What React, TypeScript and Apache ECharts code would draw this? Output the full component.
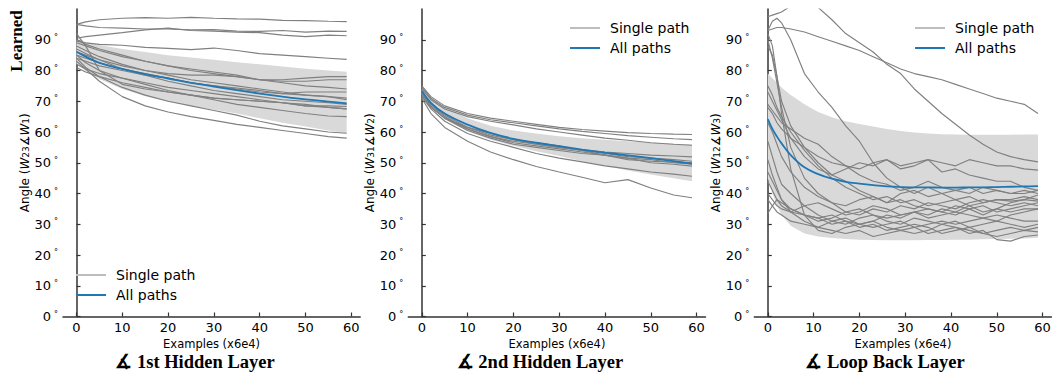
import React, { useEffect, useRef } from 'react';
import * as echarts from 'echarts';

// ---------- data ----------
const X_SMOOTH = [0, 2, 5, 10, 15, 20, 25, 30, 35, 40, 45, 50, 55, 59];
const X_NOISY = [0, 1, 2, 3, 5, 8, 11, 14, 17, 20, 23, 26, 29, 32, 35, 38, 41, 44, 47, 50, 53, 56, 59];
const X_TICKS = [0, 10, 20, 30, 40, 50, 60];
const Y_TICKS = [0, 10, 20, 30, 40, 50, 60, 70, 80, 90];

const P1_PATHS = [
  [95.0, 95.8, 96.5, 97.0, 97.2, 97.0, 97.3, 97.0, 96.8, 96.7, 96.3, 96.2, 96.0, 95.9],
  [95.0, 94.5, 94.0, 93.8, 93.5, 93.5, 93.2, 93.3, 92.8, 92.7, 93.0, 92.5, 92.8, 92.7],
  [90.5, 91.0, 91.5, 92.3, 93.2, 93.8, 93.0, 92.8, 92.5, 92.3, 91.5, 91.0, 91.5, 91.3],
  [89.5, 89.0, 88.5, 88.2, 87.5, 87.2, 86.8, 87.3, 86.5, 85.5, 85.0, 84.5, 84.0, 83.6],
  [83.0, 80.5, 76.5, 71.5, 68.5, 66.5, 65.0, 63.8, 62.5, 61.5, 60.5, 59.5, 58.5, 58.0],
  [84.0, 81.0, 78.0, 74.5, 72.0, 70.0, 68.5, 67.0, 65.5, 63.5, 62.0, 61.0, 60.0, 59.6],
  [85.0, 82.5, 80.0, 77.5, 75.5, 73.5, 72.0, 70.5, 69.0, 68.0, 67.0, 66.0, 65.2, 65.0],
  [82.0, 80.5, 79.0, 77.5, 76.0, 74.5, 73.5, 72.5, 71.5, 70.5, 69.5, 68.5, 68.0, 67.5],
  [88.0, 86.5, 84.5, 82.0, 80.0, 78.5, 77.0, 76.0, 75.0, 74.0, 73.0, 72.0, 71.5, 71.0],
  [84.0, 83.0, 81.5, 80.0, 78.5, 77.5, 76.0, 75.0, 74.3, 73.5, 72.5, 72.0, 71.5, 70.5],
  [89.0, 88.0, 86.5, 84.5, 83.0, 81.5, 80.5, 79.5, 78.5, 77.0, 76.5, 76.5, 77.0, 77.0],
  [90.0, 88.5, 87.0, 85.0, 83.0, 81.5, 80.0, 79.0, 78.0, 77.0, 76.0, 75.0, 74.5, 74.0],
  [86.0, 85.0, 83.5, 81.5, 80.0, 79.0, 78.5, 78.5, 78.0, 77.0, 77.0, 77.5, 78.0, 78.0],
  [87.0, 85.5, 83.5, 80.5, 78.5, 76.5, 75.0, 73.5, 72.5, 71.5, 70.5, 70.0, 69.5, 69.0],
  [92.0, 88.0, 80.0, 75.5, 74.0, 73.0, 72.0, 71.0, 70.5, 70.0, 69.5, 68.5, 68.5, 68.3],
  [81.0, 79.5, 78.0, 76.0, 74.5, 73.0, 72.0, 71.0, 70.5, 70.0, 69.5, 69.0, 68.0, 67.5],
  [85.0, 84.0, 82.5, 80.5, 79.0, 77.5, 76.0, 75.0, 74.0, 73.0, 72.5, 73.0, 73.0, 73.0],
];
const P1_MEAN = [86.1, 84.5, 82.5, 80.5, 78.8, 77.4, 76.0, 74.8, 73.6, 72.5, 71.5, 70.6, 69.9, 69.3];
const P1_UPPER = [90, 89.3, 88.3, 87, 86, 85, 84.2, 83.5, 82.7, 82, 81.3, 80.6, 80, 79.6];
const P1_LOWER = [82.2, 79.8, 77.2, 74, 71.6, 69.8, 68.5, 67.2, 66, 64.5, 63, 61.8, 60.5, 59.6];

const P2_PATHS = [
  [75.0, 71.5, 68.5, 66.0, 64.5, 63.5, 62.5, 61.5, 60.8, 60.3, 59.8, 59.5, 59.3, 59.2],
  [74.5, 71.0, 68.0, 65.5, 64.0, 63.0, 62.0, 61.0, 60.2, 59.5, 58.8, 58.3, 57.8, 57.5],
  [74.0, 70.5, 67.5, 65.0, 63.5, 62.3, 61.0, 60.0, 59.0, 58.0, 57.3, 56.5, 56.0, 55.7],
  [72.0, 68.0, 64.5, 61.0, 58.5, 57.0, 56.0, 55.0, 54.2, 53.5, 53.0, 52.5, 52.2, 51.9],
  [73.0, 69.0, 65.5, 61.5, 59.0, 57.5, 56.0, 55.0, 54.0, 53.0, 52.0, 51.5, 51.0, 50.5],
  [72.5, 68.5, 64.5, 60.5, 58.0, 56.0, 55.0, 54.0, 53.0, 52.5, 51.5, 50.0, 49.5, 48.9],
  [71.5, 67.5, 63.5, 59.5, 57.0, 55.0, 53.0, 51.5, 50.3, 49.0, 48.0, 47.0, 46.3, 45.6],
  [73.5, 69.0, 65.0, 61.0, 58.5, 56.5, 55.5, 54.5, 53.5, 52.5, 51.5, 51.0, 50.0, 49.5],
  [72.5, 68.0, 64.5, 61.5, 59.5, 57.5, 56.5, 55.5, 54.0, 52.5, 51.0, 50.5, 50.2, 50.0],
  [71.0, 66.0, 61.5, 57.0, 53.5, 51.0, 48.8, 47.0, 45.3, 43.5, 44.5, 41.8, 39.5, 38.6],
];
const P2_MEAN = [73.3, 69.5, 66, 62.4, 59.7, 57.8, 56.5, 55.4, 54.3, 53.3, 52.4, 51.5, 50.5, 49.7];
const P2_UPPER = [74, 71, 68, 64.5, 62, 60.5, 59.5, 58.6, 58, 57.5, 57, 56.6, 56.2, 55.9];
const P2_LOWER = [72.5, 68, 64, 60.3, 57.5, 55.5, 53.7, 52.2, 50.5, 49, 47.5, 46.2, 45, 44];

const P3_PATHS = [
  [97.5, 98, 98.5, 99, 101, 103, 100.5, 96.5, 92, 89, 86, 82, 79, 74, 70, 66, 62.5, 59, 56, 53.5, 52, 51, 50.3],
  [93, 96, 97, 95.5, 90, 79, 73, 68, 62, 57, 50, 45, 42, 40, 42, 40, 38, 39, 37, 38, 37.5, 38, 37.5],
  [93, 93.5, 94, 94, 93.5, 92.5, 91, 89.5, 88, 86.5, 84.5, 82.5, 80.5, 79, 78, 77, 75.5, 74, 72.5, 71, 70, 69, 66],
  [92, 88, 78, 66, 48, 33, 28, 27, 29, 30, 31, 29, 28, 29, 27, 28, 29, 27, 28, 25, 24.5, 26, 26.5],
  [88, 85, 78, 70, 62, 55, 50, 46, 44, 41, 39, 37, 38, 36, 35, 34, 36, 35, 33, 35, 34, 35, 35],
  [75, 72, 68, 65, 60, 54, 49, 45, 42, 40, 38, 39, 37, 38, 36, 37, 38, 36, 37, 38, 38, 39, 38],
  [73, 70, 67, 64, 58, 52, 48, 46, 48, 50, 49, 51, 48, 49, 51, 47, 48, 46, 45, 44, 44, 42, 41],
  [68, 66, 63, 61, 58, 55, 52, 50, 49, 48, 50, 51, 49, 50, 51, 50, 49, 51, 50, 49, 49, 48, 47.6],
  [63, 60, 56, 52, 47, 42, 39, 37, 36, 38, 39, 37, 40, 41, 39, 40, 41, 42, 40, 41, 40, 40, 41],
  [57, 52, 47, 43, 40, 36, 33, 31, 30, 32, 33, 31, 30, 32, 31, 30, 31, 29, 30, 31, 30, 29, 30],
  [51, 46, 42, 38, 34, 31, 29, 28, 27, 28, 26, 27, 28, 27, 28, 30, 29, 28, 27, 28, 29, 28, 29],
  [47, 44, 41, 38, 35, 33, 31, 32, 34, 33, 35, 34, 36, 35, 37, 36, 35, 37, 38, 37, 36, 37, 36],
  [44, 41, 38, 36, 34, 33, 32, 33, 31, 30, 29, 30, 31, 29, 30, 31, 30, 31, 32, 33, 32, 31, 31],
  [40, 38, 36, 35, 34, 36, 37, 35, 33, 34, 36, 35, 33, 34, 35, 34, 33, 35, 36, 34, 35, 36, 37],
  [33.5, 36, 38, 37, 35, 33, 32, 30, 31, 29, 30, 28, 29, 30, 29, 27, 28, 29, 27, 26, 27, 28, 27.5],
  [38, 36, 34, 33, 31, 30, 29, 31, 32, 30, 31, 33, 32, 34, 33, 35, 34, 36, 34, 35, 37, 38, 39.5],
  [90, 84, 76, 68, 55, 45, 40, 37, 34, 35, 33, 32, 33, 34, 32, 33, 34, 33, 32, 31, 33, 34, 35],
  [69, 67, 65, 63, 61, 58, 56, 52, 49, 46, 44, 43, 41, 42, 44, 42, 41, 40, 42, 41, 40, 41, 40],
];
const P3_MEAN = [64.2, 61, 58.5, 56.3, 52.5, 48.5, 46.3, 44.8, 43.8, 43.2, 42.7, 42.3, 42.1, 42.0, 42.0, 41.9, 41.9, 42.0, 42.0, 42.1, 42.2, 42.3, 42.4];
const P3_UPPER = [79, 77.5, 76, 74.5, 72, 69, 66.5, 64.8, 63.5, 62.6, 61.8, 61, 60.3, 59.8, 59.5, 59.3, 59.2, 59.1, 59.1, 59.1, 59.1, 59.2, 59.2];
const P3_LOWER = [45, 40, 36, 33, 29.5, 27, 26, 25.5, 25.2, 25, 24.9, 24.8, 24.8, 24.8, 24.9, 24.9, 25, 25, 25.1, 25.2, 25.3, 25.4, 25.6];

const TITLES = ['∡ 1st Hidden Layer', '∡ 2nd Hidden Layer', '∡ Loop Back Layer'];
const Y_NAMES = [
  ['23', '1'],
  ['31', '2'],
  ['12', '3'],
];

// ---------- layout ----------
const SANS = '"DejaVu Sans", sans-serif';
const SERIF = '"Liberation Serif", "Times New Roman", serif';
const GRID_LEFTS = [63, 408.3, 754.3];
const GRID_W = 297.2;
const GRID_TOP = 9;
const GRID_H = 307.5;
const TITLE_X = [195, 540, 885];
const LEGEND_POS = [
  { left: 76, top: 268 },
  { left: 570, top: 21 },
  { left: 915, top: 21 },
];

const PANELS = [
  { xs: X_SMOOTH, paths: P1_PATHS, mean: P1_MEAN, upper: P1_UPPER, lower: P1_LOWER },
  { xs: X_SMOOTH, paths: P2_PATHS, mean: P2_MEAN, upper: P2_UPPER, lower: P2_LOWER },
  { xs: X_NOISY, paths: P3_PATHS, mean: P3_MEAN, upper: P3_UPPER, lower: P3_LOWER },
];

const AXIS_COLOR = '#333333';
const LINE_ICON = 'path://M0,0H30V2H0Z';

export default function App() {
  const ref = useRef<HTMLDivElement>(null);
  useEffect(() => {
    if (!ref.current) return;
    const chart = echarts.init(ref.current, undefined, { renderer: 'svg' });

    const grid = PANELS.map((_, i) => ({
      left: GRID_LEFTS[i],
      top: GRID_TOP,
      width: GRID_W,
      height: GRID_H,
      outerBoundsMode: 'none',
      containLabel: false,
    }));

    const xAxis = PANELS.map((_, i) => ({
      type: 'value',
      gridIndex: i,
      min: -2.95,
      max: 61.95,
      axisLine: { show: true, onZero: false, lineStyle: { color: AXIS_COLOR, width: 1.5 } },
      axisTick: { show: true, inside: true, length: 4, customValues: X_TICKS, lineStyle: { color: AXIS_COLOR, width: 1.2 } },
      axisLabel: { customValues: X_TICKS, margin: 4, fontSize: 13, fontFamily: SANS, color: '#000' },
      splitLine: { show: false },
      name: 'Examples (x6e4)',
      nameLocation: 'middle',
      nameGap: 13,
      nameTextStyle: { fontSize: 11.5, fontFamily: SANS, color: '#000' },
    }));

    const yAxis = PANELS.map((_, i) => ({
      type: 'value',
      gridIndex: i,
      min: 0,
      max: 100,
      interval: 10,
      axisLine: { show: true, lineStyle: { color: AXIS_COLOR, width: 1.5 } },
      axisTick: { show: true, inside: true, length: 4, customValues: Y_TICKS, lineStyle: { color: AXIS_COLOR, width: 1.2 } },
      axisLabel: {
        customValues: Y_TICKS,
        margin: 5,
        formatter: (v: number) => `{n|${v}}{d|°}`,
        rich: {
          n: { fontSize: 13, fontFamily: SANS, color: '#000' },
          d: { fontSize: 8, fontFamily: SANS, color: '#000', verticalAlign: 'top', padding: [0, 0, 0, 3] },
        },
      },
      splitLine: { show: false },
      name: `{a|Angle (}{w|W}{s|${Y_NAMES[i][0]}}{a|∡}{w|W}{s|${Y_NAMES[i][1]}}{a|)}`,
      nameLocation: 'middle',
      nameGap: 27,
      nameTextStyle: {
        fontSize: 12,
        fontFamily: SANS,
        color: '#000',
        rich: {
          a: { fontSize: 12, fontFamily: SANS, color: '#000' },
          w: { fontSize: 12, fontFamily: SANS, fontStyle: 'italic', color: '#000' },
          s: { fontSize: 9, fontFamily: SANS, color: '#000', verticalAlign: 'bottom' },
        },
      },
    }));

    const series: any[] = [];
    PANELS.forEach((p, i) => {
      series.push({
        type: 'custom',
        xAxisIndex: i,
        yAxisIndex: i,
        silent: true,
        clip: true,
        z: 1,
        data: [[0, 0]],
        renderItem: (_params: any, api: any) => {
          const pts: number[][] = [];
          p.xs.forEach((x, j) => pts.push(api.coord([x, p.upper[j]])));
          for (let j = p.xs.length - 1; j >= 0; j--) pts.push(api.coord([p.xs[j], p.lower[j]]));
          return { type: 'polygon', shape: { points: pts }, style: { fill: '#d9d9d9', stroke: 'none' } };
        },
      });
      p.paths.forEach((path) => {
        series.push({
          type: 'line',
          name: 'Single path',
          xAxisIndex: i,
          yAxisIndex: i,
          data: p.xs.map((x, j) => [x, path[j]]),
          symbol: 'none',
          showSymbol: false,
          silent: true,
          clip: true,
          z: 2,
          lineStyle: { color: '#808080', width: 1.15 },
          itemStyle: { color: '#808080' },
        });
      });
      series.push({
        type: 'line',
        name: 'All paths',
        xAxisIndex: i,
        yAxisIndex: i,
        data: p.xs.map((x, j) => [x, p.mean[j]]),
        symbol: 'none',
        showSymbol: false,
        smooth: 0.4,
        silent: true,
        clip: true,
        z: 3,
        lineStyle: { color: '#1f77b4', width: 1.8 },
        itemStyle: { color: '#1f77b4' },
      });
    });

    const legend = LEGEND_POS.map((pos) => ({
      left: pos.left,
      top: pos.top,
      padding: 0,
      orient: 'vertical',
      itemWidth: 30,
      itemHeight: 14,
      itemGap: 6,
      selectedMode: false,
      textStyle: { fontSize: 14, fontFamily: SANS, color: '#000', padding: [0, 0, 0, 5] },
      data: [
        { name: 'Single path', icon: LINE_ICON, itemStyle: { color: '#bdbdbd', opacity: 1 } },
        { name: 'All paths', icon: LINE_ICON, itemStyle: { color: '#1f77b4', opacity: 1 } },
      ],
    }));

    const graphic: any[] = TITLES.map((t, i) => ({
      type: 'text',
      x: TITLE_X[i],
      y: 362,
      style: {
        text: t,
        fontSize: 18.5,
        fontWeight: 'bold',
        fontFamily: SERIF,
        fill: '#000',
        align: 'center',
        verticalAlign: 'middle',
      },
    }));
    graphic.push({
      type: 'text',
      x: 16,
      y: 41,
      rotation: Math.PI / 2,
      style: {
        text: 'Learned',
        fontSize: 17,
        fontWeight: 'bold',
        fontFamily: SERIF,
        fill: '#000',
        align: 'center',
        verticalAlign: 'middle',
      },
    });

    chart.setOption({
      animation: false,
      backgroundColor: '#ffffff',
      grid,
      xAxis,
      yAxis,
      legend,
      series,
      graphic,
    });

    return () => chart.dispose();
  }, []);

  return (
    <div
      ref={ref}
      style={{ position: 'absolute', left: 0, top: 0, width: 1052, height: 377, background: '#fff' }}
    />
  );
}
